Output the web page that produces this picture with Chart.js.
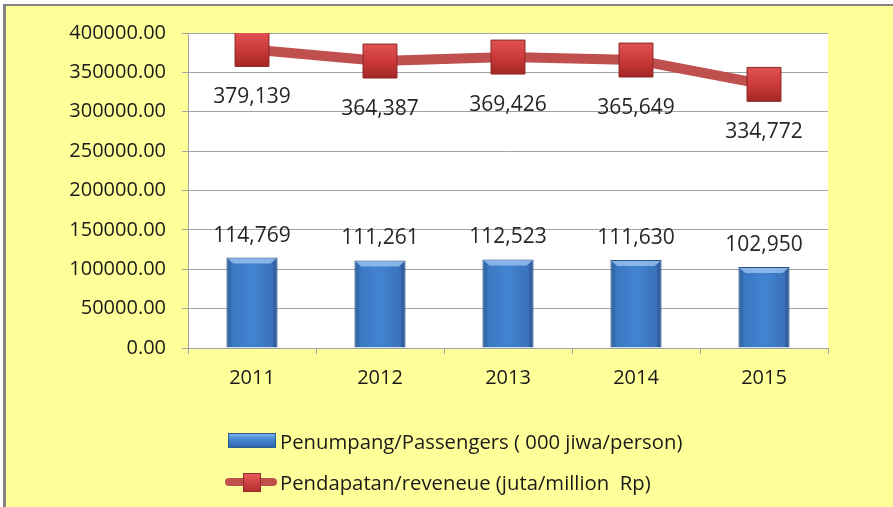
<!DOCTYPE html>
<html>
<head>
<meta charset="utf-8">
<script src="https://cdn.jsdelivr.net/npm/chart.js@4/dist/chart.umd.min.js"></script>
<style>
  html, body { margin: 0; padding: 0; background: #fff; }
  #frame {
    position: absolute; left: 3px; top: 4px; width: 900px; height: 520px;
    background: #FFFF99; border-left: 3px solid #848484; border-top: 2px solid #848484;
  }
  #wrap { position: absolute; left: 0; top: 0; width: 893px; height: 507px; }
  #legend { position: absolute; left: 228px; top: 420px; font-family: "Open Sans", sans-serif; font-size: 20.3px; color: #1a1a1a; }
  .item { height: 41px; display: flex; align-items: center; white-space: pre; }
  .box { width: 46px; height: 13px; margin-right: 4px; border: 1px solid #2f5a8c;
         background: linear-gradient(#7fb0ea 0, #4a8ad6 35%, #2f67ad 100%); }
  .lineicon { position: relative; width: 52px; height: 18px; margin-left: -3px; margin-right: 3px; }
  .lineicon .ln { position: absolute; left: 0; top: 5px; width: 52px; height: 8px; border-radius: 4px; background: #C0504D; }
  .lineicon .sq { position: absolute; left: 18px; top: 0; width: 16px; height: 17px; border: 1px solid #8e2b2b;
         background: linear-gradient(#e65a5a, #b52d2d); }
</style>
</head>
<body>
<div id="frame"></div>
<div id="wrap"><canvas id="c" width="893" height="507"></canvas></div>
<div id="legend"></div>
<script>
// values
const years = ['2011', '2012', '2013', '2014', '2015'];
const passengers = [114769, 111261, 112523, 111630, 102950];
const revenue = [379139, 364387, 369426, 365649, 334772];
const yTicks = [0, 50000, 100000, 150000, 200000, 250000, 300000, 350000, 400000];

const passLabel = 'Penumpang/Passengers ( 000 jiwa/person)';
const revLabel = 'Pendapatan/reveneue (juta/million  Rp)';

const FONT = '"Open Sans", sans-serif';
const GRID = '#a3a3a3';

function barFill(ctx) {
    const chart = ctx.chart;
    const x = chart.scales.x;
    if (!chart.chartArea || !x) return '#4275c0';
    const cx = x.getPixelForValue(ctx.dataIndex);
    const half = x.width / years.length * 0.2;
    const g = chart.ctx.createLinearGradient(cx - half, 0, cx + half, 0);
    g.addColorStop(0, '#2c5a93');
    g.addColorStop(0.12, '#3c78c2');
    g.addColorStop(0.5, '#4283d0');
    g.addColorStop(0.88, '#3a74bb');
    g.addColorStop(1, '#26508a');
    return g;
}

function markerFill(ctx) {
    const chart = ctx.chart;
    const y = chart.scales.y;
    if (!chart.chartArea || !y || ctx.raw === undefined) return '#c83a3a';
    const cy = y.getPixelForValue(ctx.raw);
    const g = chart.ctx.createLinearGradient(0, cy - 17, 0, cy + 17);
    g.addColorStop(0, '#e05252');
    g.addColorStop(0.5, '#cc3a3a');
    g.addColorStop(1, '#a32626');
    return g;
}

const plotBg = {
    id: 'plotBg',
    beforeDraw(chart) {
        const { ctx, chartArea: a } = chart;
        ctx.save();
        ctx.fillStyle = '#fff';
        ctx.fillRect(a.left, a.top, a.right - a.left, a.bottom - a.top);
        ctx.restore();
    }
};

// top bevel on bars + value labels
const decor = {
    id: 'decor',
    afterDatasetsDraw(chart) {
        const ctx = chart.ctx;
        ctx.save();
        chart.getDatasetMeta(0).data.forEach(bar => {
            const l = bar.x - bar.width / 2, r = bar.x + bar.width / 2, t = bar.y;
            ctx.fillStyle = 'rgba(160,200,245,0.75)';
            ctx.beginPath();
            ctx.moveTo(l + 1, t + 1); ctx.lineTo(r - 1, t + 1);
            ctx.lineTo(r - 7, t + 6); ctx.lineTo(l + 7, t + 6);
            ctx.closePath(); ctx.fill();
        });
        ctx.font = '21px ' + FONT;
        ctx.fillStyle = '#262626';
        ctx.textAlign = 'center';
        ctx.textBaseline = 'middle';
        chart.getDatasetMeta(0).data.forEach((bar, i) => {
            ctx.fillText(passengers[i].toLocaleString('en-US'), bar.x, bar.y - 22);
        });
        chart.getDatasetMeta(1).data.forEach((pt, i) => {
            ctx.fillText(revenue[i].toLocaleString('en-US'), pt.x, pt.y + 48);
        });
        ctx.restore();
    }
};

const chart = new Chart(document.getElementById('c'), {
    data: {
        labels: years,
        datasets: [
            {
                type: 'bar', label: passLabel, data: passengers, order: 2,
                backgroundColor: barFill, borderColor: '#2a5288', borderWidth: 1,
                barPercentage: 0.4, categoryPercentage: 1,
            },
            {
                type: 'line', label: revLabel, data: revenue, order: 1,
                borderColor: '#C0504D', borderWidth: 10, tension: 0,
                pointStyle: 'rect', pointRadius: 24, pointHoverRadius: 24,
                pointBackgroundColor: markerFill, pointBorderColor: '#8a2828', pointBorderWidth: 1,
            },
        ],
    },
    options: {
        responsive: false,
        animation: false,
        events: [],
        layout: { padding: { top: 33, right: 65, left: 0, bottom: 0 } },
        plugins: { legend: { display: false }, tooltip: { enabled: false } },
        scales: {
            x: {
                offset: true,
                grid: { offset: true, drawOnChartArea: false, color: GRID, tickLength: 6 },
                border: { color: GRID },
                ticks: { color: '#1a1a1a', font: { family: FONT, size: 20 }, padding: 12 },
                afterFit(s) { s.height = 159; },
            },
            y: {
                min: 0, max: 400000,
                afterBuildTicks(s) { s.ticks = yTicks.map(v => ({ value: v })); },
                grid: { color: GRID, tickLength: 6 },
                border: { color: GRID },
                ticks: {
                    color: '#1a1a1a', font: { family: FONT, size: 20 }, padding: 16,
                    callback: v => Number(v).toFixed(2),
                },
                afterFit(s) { s.width = 188; },
            },
        },
    },
    plugins: [plotBg, decor],
});

// legend built from the dataset labels
const legend = document.getElementById('legend');
chart.data.datasets.forEach(ds => {
    const row = document.createElement('div');
    row.className = 'item';
    row.innerHTML = (ds.type === 'bar'
        ? '<span class="box"></span>'
        : '<span class="lineicon"><span class="ln"></span><span class="sq"></span></span>') +
        '<span></span>';
    row.lastChild.textContent = ds.label;
    legend.appendChild(row);
});
</script>
</body>
</html>
